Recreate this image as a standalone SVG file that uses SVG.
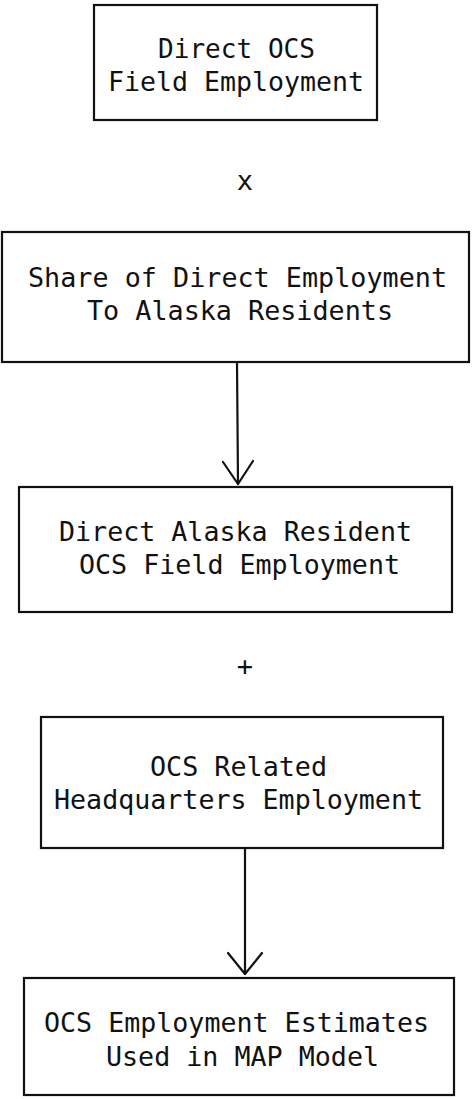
<svg xmlns="http://www.w3.org/2000/svg" width="472" height="1099" viewBox="0 0 472 1099">
<style>
.box{fill:#fff;stroke:#111;stroke-width:2.2}
.t{font-family:"DejaVu Sans Mono","Liberation Mono",monospace;font-size:27px;fill:#111}
.c{stroke:#111;stroke-width:2.2;fill:none;stroke-linecap:round;stroke-linejoin:round}
</style>
<rect width="472" height="1099" fill="#fff"/>
<g id="node-direct-ocs">
<rect class="box" x="94" y="5" width="283" height="115"/>
<text class="t" x="158" y="58" textLength="157" lengthAdjust="spacingAndGlyphs">Direct OCS</text>
<text class="t" x="108" y="91" textLength="256" lengthAdjust="spacingAndGlyphs">Field Employment</text>
</g>
<g id="op-times">
<text class="t" x="245" y="190" text-anchor="middle">x</text>
</g>
<g id="node-share">
<rect class="box" x="2" y="232" width="467" height="130"/>
<text class="t" x="28" y="287" textLength="419" lengthAdjust="spacingAndGlyphs">Share of Direct Employment</text>
<text class="t" x="87" y="320" textLength="306" lengthAdjust="spacingAndGlyphs">To Alaska Residents</text>
</g>
<g id="node-resident">
<rect class="box" x="19" y="487" width="433" height="125"/>
<text class="t" x="59" y="541" textLength="353" lengthAdjust="spacingAndGlyphs">Direct Alaska Resident</text>
<text class="t" x="79" y="574" textLength="321" lengthAdjust="spacingAndGlyphs">OCS Field Employment</text>
</g>
<g id="op-plus">
<text class="t" x="245" y="675" text-anchor="middle">+</text>
</g>
<g id="node-hq">
<rect class="box" x="41" y="717" width="402" height="131"/>
<text class="t" x="150" y="776" textLength="177" lengthAdjust="spacingAndGlyphs">OCS Related</text>
<text class="t" x="54" y="809" textLength="369" lengthAdjust="spacingAndGlyphs">Headquarters Employment</text>
</g>
<g id="node-estimates">
<rect class="box" x="24" y="978" width="430" height="117"/>
<text class="t" x="44" y="1032" textLength="385" lengthAdjust="spacingAndGlyphs">OCS Employment Estimates</text>
<text class="t" x="106" y="1066" textLength="273" lengthAdjust="spacingAndGlyphs">Used in MAP Model</text>
</g>
<g id="connectors">
<path class="c" d="M237 362 L238 484"/>
<path class="c" d="M223 462 L238 484 L253 461"/>
<path class="c" d="M245 848 L245 974"/>
<path class="c" d="M228 953 L245 974 L262 953"/>
</g>
</svg>
